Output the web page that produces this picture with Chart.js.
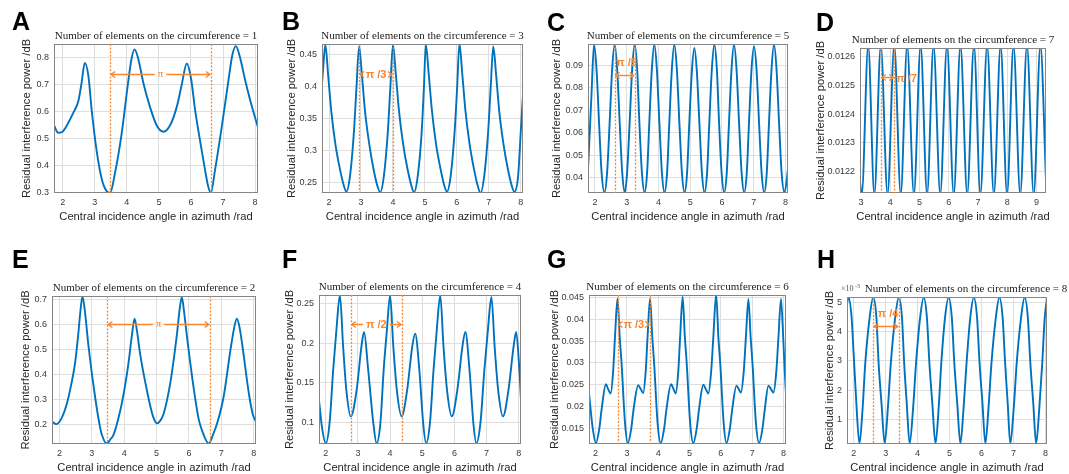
<!DOCTYPE html>
<html>
<head>
<meta charset="utf-8">
<script src="https://cdn.jsdelivr.net/npm/chart.js@4.4.0/dist/chart.umd.min.js"></script>
<style>
  body { margin: 0; background: #fff; width: 1069px; height: 474px; position: relative; overflow: hidden; }
  canvas { position: absolute; }
</style>
</head>
<body>
<script>
// ---- data ----
var xA = [1.74,1.86,1.98,2.12,2.33,2.49,2.59,2.69,2.80,2.91,3.06,3.22,3.37,3.48,3.63,3.84,4.05,4.15,4.24,4.34,4.52,4.72,4.93,5.14,5.35,5.56,5.71,5.87,6.00,6.13,6.28,6.44,6.54,6.62,6.75,6.96,7.17,7.29,7.40,7.51,7.69,7.90,8.10];
var yA = [0.547,0.522,0.525,0.547,0.596,0.64,0.707,0.781,0.735,0.60,0.455,0.35,0.306,0.30,0.372,0.52,0.717,0.798,0.831,0.804,0.705,0.619,0.55,0.526,0.55,0.619,0.699,0.779,0.725,0.606,0.495,0.384,0.322,0.30,0.384,0.544,0.717,0.81,0.843,0.81,0.717,0.619,0.538];

var xB = [1.76,1.82,1.885,1.97,2.07,2.20,2.33,2.46,2.54,2.66,2.78,2.86,2.94,3.03,3.13,3.26,3.39,3.52,3.60,3.72,3.84,3.92,4.00,4.09,4.19,4.32,4.45,4.58,4.66,4.78,4.90,4.97,5.03,5.12,5.22,5.35,5.48,5.61,5.69,5.81,5.93,6.01,6.08,6.17,6.27,6.40,6.53,6.66,6.74,6.86,6.98,7.06,7.14,7.23,7.33,7.46,7.59,7.72,7.80,7.92,8.00,8.08];
var yB = [0.39,0.432,0.466,0.42,0.362,0.31,0.274,0.246,0.236,0.262,0.33,0.40,0.463,0.418,0.36,0.31,0.272,0.244,0.235,0.262,0.33,0.40,0.466,0.42,0.362,0.31,0.273,0.245,0.235,0.262,0.33,0.40,0.466,0.42,0.363,0.31,0.274,0.245,0.236,0.262,0.33,0.40,0.468,0.42,0.362,0.31,0.273,0.244,0.234,0.262,0.33,0.40,0.463,0.418,0.36,0.31,0.273,0.245,0.236,0.262,0.33,0.395];

var xC = [1.78,1.89,1.97,2.05,2.13,2.21,2.30,2.38,2.46,2.54,2.62,2.70,2.78,2.86,2.94,3.01,3.09,3.17,3.25,3.33,3.40,3.48,3.56,3.64,3.71,3.79,3.87,3.95,4.03,4.11,4.19,4.27,4.34,4.42,4.50,4.58,4.66,4.74,4.82,4.90,4.97,5.05,5.13,5.21,5.29,5.37,5.45,5.53,5.60,5.68,5.76,5.84,5.91,5.99,6.07,6.15,6.22,6.30,6.38,6.46,6.54,6.62,6.70,6.78,6.85,6.93,7.01,7.09,7.17,7.25,7.33,7.41,7.48,7.56,7.64,7.72,7.80,7.88,7.97,8.08];
var yC = [0.0437,0.077,
  0.0993,0.088,0.064,0.042,0.0335,0.042,0.064,0.088,
  0.0993,0.088,0.064,0.042,0.0335,0.042,0.064,0.088,
  0.0993,0.088,0.064,0.042,0.0335,0.042,0.064,0.088,
  0.0993,0.088,0.064,0.042,0.0335,0.042,0.064,0.088,
  0.0993,0.088,0.064,0.042,0.0335,0.042,0.064,0.087,
  0.0977,0.087,0.064,0.042,0.0335,0.042,0.064,0.088,
  0.0993,0.088,0.064,0.042,0.0335,0.042,0.064,0.088,
  0.0993,0.088,0.064,0.042,0.0335,0.042,0.064,0.088,
  0.0985,0.088,0.064,0.042,0.0335,0.042,0.064,0.088,
  0.0993,0.088,0.064,0.042,0.0335,0.0437];

var xD = [2.97,3.03,3.25,3.46,3.68,3.91,4.14,4.36,4.58,4.81,5.04,5.26,5.48,5.71,5.94,6.17,6.40,6.63,6.86,7.08,7.31,7.54,7.77,7.99,8.21,8.44,8.67,8.90,9.13,9.32];
var yD = [0.012165,0.01212,0.01264,0.01212,0.01264,0.01212,0.01264,0.01212,0.01264,0.01212,0.01264,0.01212,0.01264,0.01212,0.01264,0.01212,0.01264,0.01212,0.01264,0.01212,0.01264,0.01212,0.01264,0.01212,0.01264,0.01212,0.01264,0.01212,0.01264,0.01217];

var xE = [1.78,1.90,2.05,2.23,2.38,2.48,2.58,2.64,2.71,2.78,2.90,3.10,3.25,3.31,3.46,3.58,3.67,3.88,4.02,4.13,4.24,4.32,4.40,4.49,4.70,4.88,5.01,5.12,5.22,5.42,5.55,5.63,5.72,5.78,5.85,5.94,6.14,6.30,6.40,6.61,6.75,6.87,7.07,7.28,7.40,7.48,7.56,7.64,7.85,7.97,8.07];
var yE = [0.209,0.200,0.22,0.283,0.37,0.443,0.56,0.644,0.713,0.66,0.51,0.31,0.19,0.157,0.122,0.14,0.157,0.256,0.35,0.443,0.56,0.624,0.57,0.483,0.336,0.235,0.203,0.215,0.243,0.363,0.48,0.563,0.67,0.71,0.65,0.55,0.35,0.22,0.176,0.122,0.16,0.203,0.31,0.497,0.59,0.624,0.59,0.524,0.323,0.24,0.209];

var xF = [1.79,1.88,2.00,2.12,2.23,2.33,2.44,2.54,2.64,2.78,2.96,3.11,3.19,3.32,3.48,3.58,3.70,3.80,3.90,4.00,4.10,4.21,4.36,4.53,4.69,4.78,4.91,5.03,5.12,5.24,5.35,5.45,5.56,5.66,5.77,5.92,6.09,6.25,6.34,6.47,6.59,6.68,6.81,6.93,7.04,7.15,7.25,7.36,7.51,7.68,7.84,7.92,8.02,8.07];
var yF = [0.1285,0.095,0.074,0.10,0.166,0.216,0.2605,0.196,0.141,0.108,0.141,0.196,0.214,0.166,0.099,0.074,0.10,0.166,0.216,0.26,0.196,0.141,0.108,0.141,0.196,0.212,0.166,0.099,0.074,0.10,0.166,0.216,0.26,0.196,0.141,0.108,0.141,0.196,0.214,0.166,0.099,0.074,0.10,0.166,0.216,0.258,0.196,0.141,0.108,0.141,0.196,0.214,0.166,0.1285];

var xG = [1.79,1.90,2.01,2.12,2.19,2.33,2.40,2.48,2.56,2.62,2.70,2.77,2.83,2.94,3.03,3.14,3.21,3.36,3.44,3.52,3.60,3.66,3.74,3.81,3.87,3.98,4.08,4.19,4.26,4.41,4.49,4.56,4.64,4.70,4.78,4.85,4.91,5.02,5.12,5.23,5.30,5.44,5.52,5.60,5.69,5.76,5.85,5.92,5.98,6.09,6.18,6.29,6.36,6.50,6.57,6.64,6.73,6.80,6.88,6.95,7.01,7.12,7.22,7.33,7.40,7.52,7.60,7.68,7.77,7.84,7.92,7.99,8.04,8.08];
var yG = [0.0230,0.0155,0.0116,0.0150,0.0192,0.0251,0.0240,0.0230,0.0280,0.0360,0.0448,0.036,0.0299,0.0162,0.0116,0.015,0.0192,0.0249,0.0240,0.0231,0.028,0.036,0.0448,0.036,0.0299,0.0162,0.0116,0.015,0.0192,0.0251,0.024,0.023,0.028,0.036,0.0452,0.036,0.0299,0.0162,0.0116,0.015,0.0192,0.0250,0.024,0.023,0.028,0.036,0.0458,0.036,0.0299,0.0162,0.0116,0.015,0.0192,0.0248,0.0240,0.0232,0.028,0.036,0.0447,0.036,0.0299,0.0162,0.0116,0.015,0.0192,0.0248,0.024,0.0232,0.028,0.036,0.0447,0.036,0.028,0.0230];

// H values are in units of 1e-3
var xH = [1.79,1.83,1.93,2.00,2.08,2.18,2.28,2.36,2.50,2.61,2.71,2.78,2.87,2.97,3.07,3.16,3.30,3.41,3.51,3.58,3.66,3.75,3.86,3.95,4.08,4.19,4.29,4.37,4.46,4.56,4.66,4.74,4.86,4.97,5.07,5.15,5.24,5.34,5.44,5.53,5.65,5.76,5.86,5.94,6.03,6.12,6.22,6.31,6.45,6.56,6.66,6.74,6.82,6.90,7.01,7.10,7.24,7.35,7.45,7.53,7.62,7.71,7.81,7.90,7.98,8.05];
var yH = [4.95,5.18,4.55,3.2,1.6,0.17,1.4,2.9,4.5,5.18,4.5,2.91,1.55,0.17,1.4,2.9,4.5,5.18,4.5,2.91,1.55,0.17,1.4,2.9,4.5,5.18,4.5,2.91,1.55,0.17,1.4,2.9,4.5,5.18,4.5,2.91,1.55,0.17,1.4,2.9,4.5,5.18,4.5,2.91,1.55,0.17,1.4,2.9,4.5,5.18,4.5,2.91,1.55,0.17,1.4,2.9,4.5,5.18,4.5,2.91,1.55,0.17,1.4,2.9,4.5,5.12];

// tick labels
var xTicks = [2, 3, 4, 5, 6, 7, 8];
var xTicksD = [3, 4, 5, 6, 7, 8, 9];
var yTicksA = [0.3, 0.4, 0.5, 0.6, 0.7, 0.8];
var yTicksB = [0.25, 0.3, 0.35, 0.4, 0.45];
var yTicksC = [0.04, 0.05, 0.06, 0.07, 0.08, 0.09];
var yTicksD = [0.0122, 0.0123, 0.0124, 0.0125, 0.0126];
var yTicksE = [0.2, 0.3, 0.4, 0.5, 0.6, 0.7];
var yTicksF = [0.1, 0.15, 0.2, 0.25];
var yTicksG = [0.015, 0.02, 0.025, 0.03, 0.035, 0.04, 0.045];
var yTicksH = [1, 2, 3, 4, 5];

// elements on the circumference, and the marked period
var elements = [1, 3, 5, 7, 2, 4, 6, 8];
var periodLabels = ['π', 'π /3', 'π /5', 'π /7', 'π', 'π /2', 'π /3', 'π /4'];

var BLUE = '#0072BD';
var ORANGE = '#F7862F';

// ---- panels: canvas box, plot box (page px), axis ranges, annotations ----
var panels = [
  { letter: 'A', xs: xA, ys: yA, xt: xTicks, yt: yTicksA, cx: 0, cy: 0, cw: 265, ch: 237, l: 54, t: 44, r: 258, b: 193,
    xmin: 1.73, xmax: 8.09, ymin: 0.299, ymax: 0.851, lx: 12, ly: 30, ytx: 27, marks: [3.48, 6.62], ay: 0.74, mode: 'gap', serif: true },
  { letter: 'B', xs: xB, ys: yB, xt: xTicks, yt: yTicksB, cx: 265, cy: 0, cw: 265, ch: 237, l: 322, t: 44, r: 523, b: 193,
    xmin: 1.78, xmax: 8.07, ymin: 0.234, ymax: 0.467, lx: 282, ly: 30, ytx: 292, marks: [2.94, 4.0], ay: 0.42, mode: 'gap' },
  { letter: 'C', xs: xC, ys: yC, xt: xTicks, yt: yTicksC, cx: 530, cy: 0, cw: 265, ch: 237, l: 588, t: 44, r: 788, b: 193,
    xmin: 1.78, xmax: 8.08, ymin: 0.0333, ymax: 0.0995, lx: 547, ly: 31, ytx: 557, marks: [2.62, 3.25], ay: 0.0859, mode: 'above' },
  { letter: 'D', xs: xD, ys: yD, xt: xTicksD, yt: yTicksD, cx: 795, cy: 0, cw: 274, ch: 237, l: 860, t: 48, r: 1046, b: 193,
    xmin: 2.97, xmax: 9.32, ymin: 0.012125, ymax: 0.012631, lx: 816, ly: 31, ytx: 821, marks: [3.68, 4.14], ay: 0.01253, mode: 'right' },
  { letter: 'E', xs: xE, ys: yE, xt: xTicks, yt: yTicksE, cx: 0, cy: 237, cw: 265, ch: 237, l: 52, t: 296, r: 256, b: 444,
    xmin: 1.77, xmax: 8.07, ymin: 0.12, ymax: 0.715, lx: 12, ly: 268, ytx: 26, marks: [3.48, 6.64], ay: 0.601, mode: 'gap', serif: true },
  { letter: 'F', xs: xF, ys: yF, xt: xTicks, yt: yTicksF, cx: 265, cy: 237, cw: 265, ch: 237, l: 319, t: 295, r: 521, b: 444,
    xmin: 1.79, xmax: 8.07, ymin: 0.0732, ymax: 0.2606, lx: 282, ly: 268, ytx: 290, marks: [2.78, 4.37], ay: 0.2236, mode: 'gap' },
  { letter: 'G', xs: xG, ys: yG, xt: xTicks, yt: yTicksG, cx: 530, cy: 237, cw: 265, ch: 237, l: 589, t: 295, r: 786, b: 444,
    xmin: 1.79, xmax: 8.08, ymin: 0.0114, ymax: 0.0456, lx: 547, ly: 268, ytx: 555, marks: [2.70, 3.74], ay: 0.039, mode: 'gap' },
  { letter: 'H', xs: xH, ys: yH, xt: xTicks, yt: yTicksH, cx: 795, cy: 237, cw: 274, ch: 237, l: 847, t: 297, r: 1047, b: 444,
    xmin: 1.79, xmax: 8.05, ymin: 0.157, ymax: 5.19, lx: 817, ly: 268, ytx: 830, marks: [2.61, 3.41], ay: 4.19, mode: 'above',
    titleX: 966, exponent: true }
];

function fmt(v) { return String(+v.toFixed(6)); }

function arrowHead(ctx, x, y, dir) {
  ctx.beginPath();
  ctx.moveTo(x - dir * 4, y - 3);
  ctx.lineTo(x, y);
  ctx.lineTo(x - dir * 4, y + 3);
  ctx.stroke();
}

var decor = {
  id: 'decor',
  afterDatasetsDraw: function (chart, args, o) {
    var ctx = chart.ctx, a = chart.chartArea;
    var sx = chart.scales.x, sy = chart.scales.y;
    ctx.save();
    // box
    ctx.strokeStyle = '#858585';
    ctx.lineWidth = 1;
    ctx.strokeRect(Math.round(a.left) + 0.5, Math.round(a.top) + 0.5, Math.round(a.width) - 1, Math.round(a.height) - 1);

    // dotted period markers
    ctx.strokeStyle = ORANGE;
    ctx.lineWidth = 1.3;
    ctx.setLineDash([2, 1.6]);
    o.marks.forEach(function (m) {
      var px = Math.round(sx.getPixelForValue(m)) + 0.5;
      ctx.beginPath();
      ctx.moveTo(px, a.top);
      ctx.lineTo(px, a.bottom);
      ctx.stroke();
    });
    ctx.setLineDash([]);

    // double arrow + label
    var x1 = sx.getPixelForValue(o.marks[0]) + 1, x2 = sx.getPixelForValue(o.marks[1]) - 1;
    var y = Math.round(sy.getPixelForValue(o.ay)) + 0.5;
    ctx.lineWidth = 1.4;
    ctx.fillStyle = ORANGE;
    ctx.font = o.serif ? '11px "Liberation Serif"' : 'bold 11px "Liberation Sans"';
    ctx.textBaseline = 'middle';
    var tw = ctx.measureText(o.label).width;
    var mid = (x1 + x2) / 2;
    ctx.beginPath();
    if (o.mode === 'gap') {
      ctx.moveTo(x1, y); ctx.lineTo(mid - tw / 2 - 3, y);
      ctx.moveTo(mid + tw / 2 + 3, y); ctx.lineTo(x2, y);
    } else {
      ctx.moveTo(x1, y); ctx.lineTo(x2, y);
    }
    ctx.stroke();
    arrowHead(ctx, x1, y, -1);
    arrowHead(ctx, x2, y, 1);
    if (o.mode === 'gap') {
      ctx.textAlign = 'center';
      ctx.fillText(o.label, mid, y);
    } else if (o.mode === 'above') {
      ctx.textAlign = 'center';
      ctx.fillText(o.label, mid + 2, y - 13);
    } else {
      ctx.textAlign = 'left';
      ctx.fillText(o.label, x2 + 3, y + 1);
    }
    ctx.restore();
  },
  afterDraw: function (chart, args, o) {
    var ctx = chart.ctx, a = chart.chartArea;
    var midX = (a.left + a.right) / 2, midY = (a.top + a.bottom) / 2;
    ctx.save();
    // panel letter
    ctx.fillStyle = '#000';
    ctx.font = 'bold 25px "Liberation Sans"';
    ctx.textAlign = 'left';
    ctx.textBaseline = 'alphabetic';
    ctx.fillText(o.letter, o.lx, o.ly);
    // title
    ctx.fillStyle = '#222';
    ctx.font = '11px "Liberation Serif"';
    ctx.textAlign = 'center';
    ctx.textBaseline = 'middle';
    ctx.fillText(o.title, o.titleX != null ? o.titleX : midX, a.top - 8);
    if (o.exponent) {
      ctx.fillStyle = '#555';
      ctx.textAlign = 'left';
      ctx.font = '8px "Liberation Serif"';
      ctx.fillText('×10', a.left - 6, a.top - 8);
      ctx.font = '6px "Liberation Serif"';
      ctx.fillText('-3', a.left + 8, a.top - 11);
    }
    // axis titles
    ctx.fillStyle = '#262626';
    ctx.font = '11.2px "Liberation Sans"';
    ctx.textAlign = 'center';
    ctx.fillText('Central incidence angle in azimuth /rad', midX, a.bottom + 23.5);
    ctx.translate(o.ytx, midY);
    ctx.rotate(-Math.PI / 2);
    ctx.fillText('Residual interference power /dB', 0, 0);
    ctx.restore();
  }
};

Chart.defaults.font.family = '"Liberation Sans", Arial, sans-serif';

panels.forEach(function (p, i) {
  var cv = document.createElement('canvas');
  cv.width = p.cw;
  cv.height = p.ch;
  cv.style.left = p.cx + 'px';
  cv.style.top = p.cy + 'px';
  document.body.appendChild(cv);

  var pts = p.xs.map(function (x, k) { return { x: x, y: p.ys[k] }; });
  var tickFont = { size: 9, family: '"Liberation Sans Narrow", "Liberation Sans", sans-serif' };

  new Chart(cv.getContext('2d'), {
    type: 'line',
    data: {
      datasets: [{
        data: pts,
        borderColor: BLUE,
        borderWidth: 1.9,
        pointRadius: 0,
        fill: false,
        cubicInterpolationMode: 'monotone',
        clip: 0
      }]
    },
    options: {
      responsive: false,
      animation: false,
      devicePixelRatio: 1,
      events: [],
      layout: { padding: { left: 0, top: p.t - p.cy, right: p.cx + p.cw - p.r, bottom: 0 } },
      plugins: {
        legend: { display: false },
        tooltip: { enabled: false },
        decor: {
          letter: p.letter, lx: p.lx - p.cx, ly: p.ly - p.cy, ytx: p.ytx - p.cx,
          title: 'Number of elements on the circumference = ' + elements[i],
          titleX: p.titleX != null ? p.titleX - p.cx : null,
          exponent: !!p.exponent,
          marks: p.marks, ay: p.ay, label: periodLabels[i], mode: p.mode, serif: !!p.serif
        }
      },
      scales: {
        x: {
          type: 'linear', min: p.xmin, max: p.xmax,
          afterFit: function (s) { s.height = p.cy + p.ch - p.b; },
          afterBuildTicks: function (s) { s.ticks = p.xt.map(function (v) { return { value: v }; }); },
          ticks: { font: tickFont, color: '#3a3a3a', padding: 4, maxRotation: 0, autoSkip: false, callback: fmt },
          grid: { color: '#dedede', drawTicks: false },
          border: { display: false }
        },
        y: {
          type: 'linear', min: p.ymin, max: p.ymax,
          afterFit: function (s) { s.width = p.l - p.cx; },
          afterBuildTicks: function (s) { s.ticks = p.yt.map(function (v) { return { value: v }; }); },
          ticks: { font: tickFont, color: '#3a3a3a', padding: 5, autoSkip: false, callback: fmt },
          grid: { color: '#dedede', drawTicks: false },
          border: { display: false }
        }
      }
    },
    plugins: [decor]
  });
});
</script>
</body>
</html>
